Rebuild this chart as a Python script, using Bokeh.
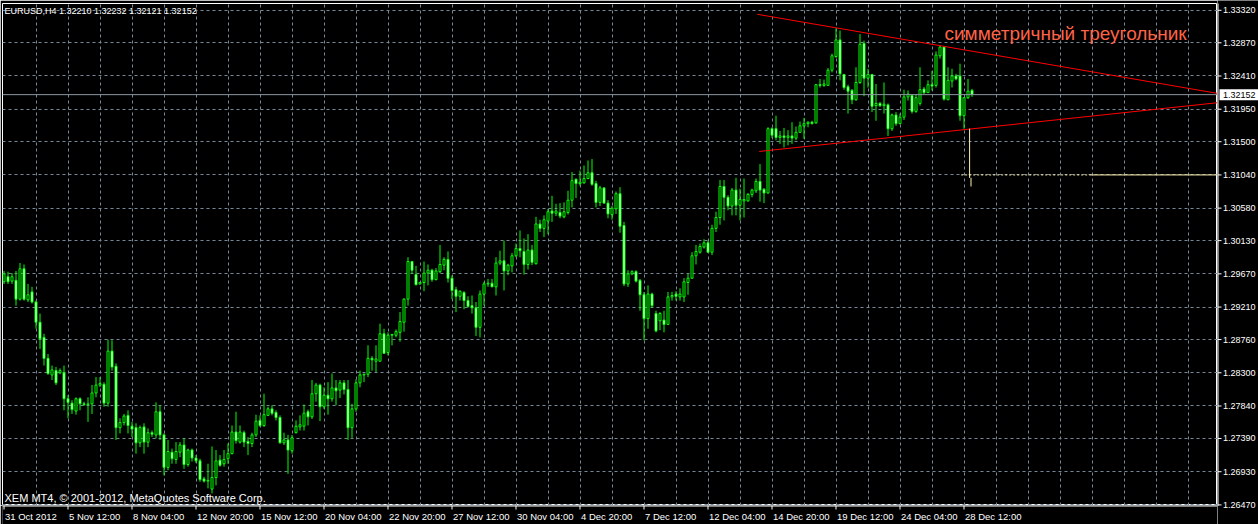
from bokeh.plotting import figure
from bokeh.layouts import column, row
from bokeh.models import (Range1d, FixedTicker, ColumnDataSource, Label, Span, Grid)
from bokeh.embed import file_html
from bokeh.resources import INLINE
from bokeh.core.properties import value

# ---------------- data (EURUSD, H4) ----------------
opens = [
    1.2956, 1.2963, 1.2957, 1.2958, 1.2932, 1.2974, 1.2931, 1.2942, 1.2928, 1.2900,
    1.2879, 1.2850, 1.2827, 1.2833, 1.2830, 1.2830, 1.2794, 1.2788, 1.2777, 1.2794,
    1.2787, 1.2786, 1.2787, 1.2802, 1.2813, 1.2814, 1.2788, 1.2860, 1.2839, 1.2754,
    1.2761, 1.2771, 1.2756, 1.2754, 1.2733, 1.2755, 1.2734, 1.2747, 1.2744, 1.2776,
    1.2744, 1.2699, 1.2720, 1.2710, 1.2720, 1.2730, 1.2703, 1.2723, 1.2712, 1.2708,
    1.2683, 1.2680, 1.2669, 1.2685, 1.2709, 1.2704, 1.2711, 1.2718, 1.2748, 1.2734,
    1.2747, 1.2735, 1.2732, 1.2744, 1.2764, 1.2757, 1.2771, 1.2780, 1.2775, 1.2768,
    1.2733, 1.2737, 1.2722, 1.2747, 1.2755, 1.2756, 1.2776, 1.2769, 1.2801, 1.2813,
    1.2783, 1.2799, 1.2794, 1.2809, 1.2806, 1.2816, 1.2807, 1.2754, 1.2780, 1.2816,
    1.2827, 1.2828, 1.2850, 1.2846, 1.2846, 1.2884, 1.2858, 1.2882, 1.2882, 1.2886,
    1.2900, 1.2932, 1.2984, 1.2966, 1.2953, 1.2955, 1.2968, 1.2972, 1.2959, 1.2970,
    1.2979, 1.2987, 1.2961, 1.2945, 1.2936, 1.2941, 1.2930, 1.2923, 1.2920, 1.2893,
    1.2939, 1.2953, 1.2954, 1.2949, 1.2982, 1.2985, 1.2971, 1.2978, 1.2992, 1.3002,
    1.2998, 1.2980, 1.3000, 1.2981, 1.3036, 1.3030, 1.3040, 1.3054, 1.3051, 1.3052,
    1.3046, 1.3052, 1.3069, 1.3098, 1.3092, 1.3093, 1.3099, 1.3107, 1.3092, 1.3066,
    1.3086, 1.3065, 1.3049, 1.3057, 1.3078, 1.3034, 1.2953, 1.2967, 1.2970, 1.2958,
    1.2938, 1.2905, 1.2939, 1.2912, 1.2902, 1.2903, 1.2897, 1.2935, 1.2939, 1.2935,
    1.2935, 1.2955, 1.2961, 1.2992, 1.2997, 1.3004, 1.3010, 1.2997, 1.3030, 1.3045,
    1.3088, 1.3073, 1.3061, 1.3083, 1.3062, 1.3068, 1.3068, 1.3077, 1.3082, 1.3095,
    1.3084, 1.3079, 1.3168, 1.3168, 1.3156, 1.3158, 1.3156, 1.3158, 1.3155, 1.3163,
    1.3172, 1.3175, 1.3177, 1.3176, 1.3229, 1.3228, 1.3228, 1.3249, 1.3268, 1.3291,
    1.3243, 1.3226, 1.3221, 1.3208, 1.3232, 1.3286, 1.3238, 1.3243, 1.3200, 1.3203,
    1.3200, 1.3201, 1.3168, 1.3187, 1.3175, 1.3184, 1.3212, 1.3214, 1.3192, 1.3203,
    1.3223, 1.3218, 1.3229, 1.3228, 1.3269, 1.3281, 1.3208, 1.3234, 1.3241, 1.3241,
    1.3186, 1.3211, 1.32210,
]
highs = [
    1.2971, 1.2970, 1.2968, 1.2971, 1.2982, 1.2980, 1.2953, 1.2949, 1.2930, 1.2912,
    1.2884, 1.2856, 1.2840, 1.2838, 1.2836, 1.2840, 1.2799, 1.2792, 1.2796, 1.2796,
    1.2790, 1.2796, 1.2813, 1.2824, 1.2824, 1.2817, 1.2876, 1.2875, 1.2843, 1.2767,
    1.2773, 1.2778, 1.2762, 1.2760, 1.2757, 1.2760, 1.2753, 1.2750, 1.2789, 1.2785,
    1.2746, 1.2737, 1.2725, 1.2734, 1.2734, 1.2739, 1.2725, 1.2725, 1.2716, 1.2711,
    1.2686, 1.2704, 1.2728, 1.2723, 1.2716, 1.2723, 1.2732, 1.2757, 1.2776, 1.2757,
    1.2750, 1.2741, 1.2747, 1.2772, 1.2771, 1.2801, 1.2783, 1.2785, 1.2778, 1.2771,
    1.2747, 1.2744, 1.2744, 1.2764, 1.2771, 1.2786, 1.2779, 1.2820, 1.2816, 1.2815,
    1.2810, 1.2817, 1.2829, 1.2820, 1.2820, 1.2820, 1.2820, 1.2787, 1.2821, 1.2833,
    1.2829, 1.2868, 1.2853, 1.2868, 1.2898, 1.2891, 1.2886, 1.2884, 1.2890, 1.2914,
    1.2933, 1.2990, 1.2985, 1.2978, 1.2956, 1.2984, 1.2980, 1.2974, 1.2975, 1.3007,
    1.2990, 1.2998, 1.2965, 1.2949, 1.2944, 1.2943, 1.2936, 1.2937, 1.2928, 1.2944,
    1.2956, 1.2960, 1.2960, 1.2990, 1.2999, 1.3013, 1.2981, 1.2996, 1.3009, 1.3027,
    1.3016, 1.3022, 1.3007, 1.3046, 1.3042, 1.3048, 1.3057, 1.3075, 1.3064, 1.3065,
    1.3066, 1.3082, 1.3108, 1.3099, 1.3110, 1.3117, 1.3124, 1.3126, 1.3096, 1.3089,
    1.3087, 1.3069, 1.3061, 1.3081, 1.3087, 1.3039, 1.2972, 1.2972, 1.2972, 1.2960,
    1.2942, 1.2951, 1.2941, 1.2916, 1.2914, 1.2916, 1.2942, 1.2942, 1.2943, 1.2947,
    1.2961, 1.2967, 1.2997, 1.3007, 1.3009, 1.3015, 1.3013, 1.3035, 1.3053, 1.3097,
    1.3097, 1.3076, 1.3086, 1.3100, 1.3085, 1.3099, 1.3079, 1.3085, 1.3099, 1.3119,
    1.3086, 1.3170, 1.3170, 1.3186, 1.3165, 1.3169, 1.3166, 1.3177, 1.3171, 1.3178,
    1.3183, 1.3178, 1.3179, 1.3230, 1.3237, 1.3236, 1.3252, 1.3272, 1.3307, 1.3304,
    1.3244, 1.3229, 1.3223, 1.3253, 1.3299, 1.3290, 1.3251, 1.3244, 1.3230, 1.3205,
    1.3232, 1.3203, 1.3189, 1.3191, 1.3189, 1.3222, 1.3221, 1.3216, 1.3216, 1.3253,
    1.3226, 1.3235, 1.3248, 1.3275, 1.3283, 1.3282, 1.3253, 1.3251, 1.3244, 1.3258,
    1.3212, 1.3237, 1.32232,
]
lows = [
    1.2953, 1.2953, 1.2953, 1.2923, 1.2930, 1.2930, 1.2928, 1.2926, 1.2891, 1.2863,
    1.2840, 1.2827, 1.2820, 1.2813, 1.2828, 1.2778, 1.2767, 1.2773, 1.2772, 1.2778,
    1.2784, 1.2762, 1.2773, 1.2796, 1.2810, 1.2783, 1.2783, 1.2833, 1.2737, 1.2746,
    1.2757, 1.2746, 1.2741, 1.2718, 1.2727, 1.2718, 1.2727, 1.2741, 1.2739, 1.2737,
    1.2688, 1.2695, 1.2704, 1.2704, 1.2713, 1.2697, 1.2700, 1.2707, 1.2705, 1.2679,
    1.2678, 1.2670, 1.2663, 1.2674, 1.2700, 1.2700, 1.2704, 1.2717, 1.2732, 1.2732,
    1.2727, 1.2716, 1.2727, 1.2741, 1.2755, 1.2755, 1.2770, 1.2771, 1.2764, 1.2732,
    1.2730, 1.2690, 1.2718, 1.2746, 1.2750, 1.2750, 1.2757, 1.2766, 1.2790, 1.2763,
    1.2780, 1.2772, 1.2790, 1.2785, 1.2795, 1.2800, 1.2737, 1.2740, 1.2776, 1.2810,
    1.2817, 1.2824, 1.2833, 1.2831, 1.2846, 1.2856, 1.2854, 1.2868, 1.2879, 1.2873,
    1.2887, 1.2923, 1.2967, 1.2951, 1.2952, 1.2943, 1.2951, 1.2956, 1.2958, 1.2968,
    1.2972, 1.2955, 1.2932, 1.2914, 1.2930, 1.2918, 1.2920, 1.2912, 1.2881, 1.2879,
    1.2923, 1.2949, 1.2949, 1.2937, 1.2979, 1.2944, 1.2965, 1.2969, 1.2990, 1.2990,
    1.2966, 1.2973, 1.2979, 1.2980, 1.3025, 1.3018, 1.3022, 1.3039, 1.3047, 1.3044,
    1.3044, 1.3049, 1.3059, 1.3072, 1.3089, 1.3092, 1.3098, 1.3089, 1.3059, 1.3061,
    1.3064, 1.3044, 1.3042, 1.3050, 1.3024, 1.2950, 1.2949, 1.2965, 1.2955, 1.2916,
    1.2875, 1.2891, 1.2920, 1.2886, 1.2889, 1.2886, 1.2896, 1.2930, 1.2930, 1.2930,
    1.2928, 1.2938, 1.2960, 1.2980, 1.2995, 1.3002, 1.2996, 1.2993, 1.3025, 1.3035,
    1.3041, 1.3055, 1.3048, 1.3048, 1.3041, 1.3045, 1.3067, 1.3073, 1.3079, 1.3067,
    1.3065, 1.3078, 1.3155, 1.3152, 1.3147, 1.3142, 1.3145, 1.3147, 1.3152, 1.3163,
    1.3154, 1.3170, 1.3174, 1.3175, 1.3225, 1.3226, 1.3228, 1.3246, 1.3266, 1.3235,
    1.3222, 1.3189, 1.3202, 1.3207, 1.3230, 1.3213, 1.3225, 1.3191, 1.3179, 1.3198,
    1.3189, 1.3158, 1.3165, 1.3172, 1.3174, 1.3180, 1.3207, 1.3189, 1.3190, 1.3200,
    1.3216, 1.3218, 1.3221, 1.3225, 1.3265, 1.3207, 1.3208, 1.3225, 1.3235, 1.3179,
    1.3168, 1.3209, 1.32121,
]
closes = [
    1.2967, 1.2956, 1.2963, 1.2932, 1.2974, 1.2932, 1.2938, 1.2928, 1.2900, 1.2877,
    1.2850, 1.2829, 1.2834, 1.2816, 1.2833, 1.2794, 1.2789, 1.2779, 1.2794, 1.2787,
    1.2786, 1.2787, 1.2802, 1.2813, 1.2815, 1.2788, 1.2860, 1.2838, 1.2754, 1.2761,
    1.2770, 1.2757, 1.2752, 1.2733, 1.2754, 1.2734, 1.2747, 1.2745, 1.2776, 1.2744,
    1.2699, 1.2721, 1.2711, 1.2721, 1.2730, 1.2703, 1.2723, 1.2712, 1.2708, 1.2682,
    1.2680, 1.2681, 1.2685, 1.2708, 1.2702, 1.2710, 1.2718, 1.2748, 1.2736, 1.2748,
    1.2734, 1.2732, 1.2744, 1.2763, 1.2757, 1.2772, 1.2780, 1.2774, 1.2768, 1.2733,
    1.2737, 1.2723, 1.2740, 1.2756, 1.2758, 1.2774, 1.2769, 1.2801, 1.2813, 1.2783,
    1.2799, 1.2794, 1.2809, 1.2805, 1.2816, 1.2807, 1.2754, 1.2780, 1.2816, 1.2827,
    1.2828, 1.2850, 1.2848, 1.2849, 1.2884, 1.2857, 1.2882, 1.2883, 1.2887, 1.2901,
    1.2932, 1.2984, 1.2972, 1.2952, 1.2955, 1.2968, 1.2972, 1.2959, 1.2971, 1.2980,
    1.2987, 1.2961, 1.2944, 1.2936, 1.2943, 1.2930, 1.2922, 1.2920, 1.2893, 1.2939,
    1.2953, 1.2954, 1.2949, 1.2982, 1.2985, 1.2971, 1.2979, 1.2992, 1.3002, 1.2999,
    1.2980, 1.3000, 1.2983, 1.3036, 1.3030, 1.3042, 1.3053, 1.3051, 1.3054, 1.3047,
    1.3053, 1.3069, 1.3096, 1.3092, 1.3094, 1.3099, 1.3107, 1.3091, 1.3066, 1.3086,
    1.3065, 1.3050, 1.3058, 1.3078, 1.3033, 1.2953, 1.2967, 1.2970, 1.2957, 1.2938,
    1.2905, 1.2939, 1.2923, 1.2888, 1.2912, 1.2897, 1.2935, 1.2937, 1.2936, 1.2939,
    1.2956, 1.2961, 1.2992, 1.2998, 1.3005, 1.3010, 1.2997, 1.3030, 1.3045, 1.3088,
    1.3073, 1.3061, 1.3083, 1.3062, 1.3070, 1.3070, 1.3077, 1.3083, 1.3095, 1.3083,
    1.3079, 1.3168, 1.3159, 1.3156, 1.3158, 1.3156, 1.3158, 1.3155, 1.3163, 1.3172,
    1.3175, 1.3177, 1.3175, 1.3229, 1.3228, 1.3230, 1.3249, 1.3269, 1.3291, 1.3244,
    1.3225, 1.3220, 1.3208, 1.3232, 1.3285, 1.3238, 1.3243, 1.3199, 1.3203, 1.3200,
    1.3202, 1.3168, 1.3187, 1.3175, 1.3184, 1.3212, 1.3216, 1.3192, 1.3211, 1.3222,
    1.3218, 1.3229, 1.3227, 1.3270, 1.3281, 1.3209, 1.3235, 1.3241, 1.3237, 1.3186,
    1.3211, 1.3220, 1.32152,
]

x_tick_bars = [0, 16, 32, 48, 64, 80, 96, 112, 128, 144, 160, 176, 192, 208, 224, 240]
x_tick_labels = ["31 Oct 2012", "5 Nov 12:00", "8 Nov 04:00", "12 Nov 20:00", "15 Nov 12:00",
                 "20 Nov 04:00", "22 Nov 20:00", "27 Nov 12:00", "30 Nov 04:00", "4 Dec 20:00",
                 "7 Dec 12:00", "12 Dec 04:00", "14 Dec 20:00", "19 Dec 12:00", "24 Dec 04:00",
                 "28 Dec 12:00"]
y_ticks = [1.26470, 1.26930, 1.27390, 1.27840, 1.28300, 1.28760, 1.29210, 1.29670,
           1.30130, 1.30580, 1.31040, 1.31500, 1.31950, 1.32410, 1.32870, 1.33320]
grid_bars = list(range(8, 304, 8))

title_text = "EURUSD,H4  1.32210 1.32232 1.32121 1.32152"
copyright_text = "XEM MT4, \u00a9 2001-2012, MetaQuotes Software Corp."
pattern_text = "симметричный треугольник"

bid_price = 1.32152
upper_x = [188.3, 303.4]
upper_y = [1.33265, 1.32169]
lower_x = [188.8, 303.4]
lower_y = [1.31365, 1.32040]
level_price = 1.31040
level_dot_x = [239.3, 271.3]
level_solid_x = [271.3, 303.4]
measure_x = 241.4
measure_y = [1.31680, 1.30998]
stub_x = 241.75
stub_y = [1.31000, 1.30880]

# ---------------- styling / geometry ----------------
FONT = "Liberation Sans"
LIME = "#00ff00"
GRID = "#778899"
CREAM = "#fff3b0"
LEFT_PAD, TOP_PAD = 2, 3
MAIN_W, MAIN_H = 1217, 505          # canvas of the chart (frame 1215 x 502)
AXIS_W, AXIS_H = 41, 19
PX = 0.0001385                      # price per pixel

xr = Range1d(-0.375, 303.375)       # 4 px per bar, bar centres on pixel centres
yr = Range1d(1.26462, 1.33414)
yr_right = Range1d(yr.start - AXIS_H * PX, yr.end + TOP_PAD * PX)


def hide_default_grids(fig):
    for g in fig.grid:
        g.visible = False


# ---------------- main chart ----------------
p = figure(width=MAIN_W, height=MAIN_H, output_backend="svg", toolbar_location=None,
           x_range=xr, y_range=yr, x_axis_location=None, y_axis_location=None,
           min_border_left=LEFT_PAD, min_border_top=TOP_PAD,
           min_border_right=0, min_border_bottom=0,
           background_fill_color="black", border_fill_color="black",
           outline_line_color="white", outline_line_width=1)
hide_default_grids(p)
for dim, ticks in ((0, grid_bars), (1, y_ticks)):
    p.add_layout(Grid(dimension=dim, ticker=FixedTicker(ticks=ticks),
                      grid_line_color=GRID, grid_line_dash="3 3", grid_line_width=1))

p.add_layout(Span(location=bid_price, dimension="width", line_color="#8a96a3", line_width=1))

bars = list(range(len(opens)))
tops = [max(o, c) for o, c in zip(opens, closes)]
bottoms = [min(o, c) for o, c in zip(opens, closes)]
fills = ["white" if c < o else "black" for o, c in zip(opens, closes)]
src = ColumnDataSource(dict(x=bars, high=highs, low=lows, top=tops, bottom=bottoms, fill=fills))
p.segment(x0="x", y0="low", x1="x", y1="high", source=src, line_color=LIME, line_width=1)
p.vbar(x="x", width=0.5, top="top", bottom="bottom", source=src,
       fill_color="fill", line_color=LIME, line_width=1)

p.line(upper_x, upper_y, line_color="#ff0000", line_width=1)
p.line(lower_x, lower_y, line_color="#ff0000", line_width=1)

p.line(level_dot_x, [level_price, level_price], line_color=CREAM, line_width=1, line_dash="2 2")
p.line(level_solid_x, [level_price, level_price], line_color=CREAM, line_width=1)
p.line([measure_x, measure_x], measure_y, line_color=CREAM, line_width=1)
p.line([stub_x, stub_x], stub_y, line_color=CREAM, line_width=1)

FRAME_H = MAIN_H - TOP_PAD
p.add_layout(Label(x=2, y=FRAME_H - 7, x_units="screen", y_units="screen", text=title_text,
                   text_color="white", text_font=FONT, text_font_size="9px",
                   text_baseline="middle", text_align="left"))
p.add_layout(Label(x=2, y=8, x_units="screen", y_units="screen", text=copyright_text,
                   text_color="white", text_font=FONT, text_font_size="11px",
                   text_baseline="middle", text_align="left"))
p.add_layout(Label(x=942, y=FRAME_H - 29.5, x_units="screen", y_units="screen", text=pattern_text,
                   text_color="#ff6347", text_font=FONT, text_font_size="19px",
                   text_baseline="alphabetic", text_align="left"))

# ---------------- bottom time scale ----------------
b = figure(width=MAIN_W, height=AXIS_H, output_backend="svg", toolbar_location=None,
           x_range=xr, y_range=Range1d(AXIS_H, 0), x_axis_location=None, y_axis_location=None,
           min_border_left=LEFT_PAD, min_border_top=0, min_border_bottom=0, min_border_right=0,
           background_fill_color="black", border_fill_color="black", outline_line_color=None)
hide_default_grids(b)
b.add_layout(Span(location=0.5, dimension="width", line_color="white", line_width=1))
xsrc = ColumnDataSource(dict(x=x_tick_bars, text=x_tick_labels))
b.segment(x0="x", y0=0, x1="x", y1=4, source=xsrc, line_color="white", line_width=1)
b.text(x="x", y=11, text="text", source=xsrc, x_offset=1, text_color="white",
       text_font=value(FONT), text_font_size="9.5px", text_baseline="middle", text_align="left")

# ---------------- right price scale ----------------
r = figure(width=AXIS_W, height=MAIN_H + AXIS_H, output_backend="svg", toolbar_location=None,
           x_range=Range1d(0, AXIS_W), y_range=yr_right, x_axis_location=None, y_axis_location=None,
           min_border=0, background_fill_color="black", border_fill_color="black",
           outline_line_color=None)
hide_default_grids(r)
r.segment(x0=[0.5], y0=[yr.start - 0.5 * PX], x1=[0.5], y1=[yr.end], line_color="white", line_width=1)
ysrc = ColumnDataSource(dict(y=y_ticks, text=["%.5f" % v for v in y_ticks]))
r.segment(x0=0, y0="y", x1=4, y1="y", source=ysrc, line_color="white", line_width=1)
r.text(x=5.5, y="y", text="text", source=ysrc, text_color="white",
       text_font=value(FONT), text_font_size="9px", text_baseline="middle", text_align="left")
r.rect(x=21.5, y=bid_price, width=39, height=11, width_units="screen", height_units="screen",
       fill_color="white", line_color=None)
r.text(x=[5.5], y=[bid_price], text=["%.5f" % bid_price], text_color="black",
       text_font=value(FONT), text_font_size="9px", text_baseline="middle", text_align="left")

layout = row(column(p, b, spacing=0), r, spacing=0)
open("out.html", "w", encoding="utf-8").write(file_html(layout, INLINE))
